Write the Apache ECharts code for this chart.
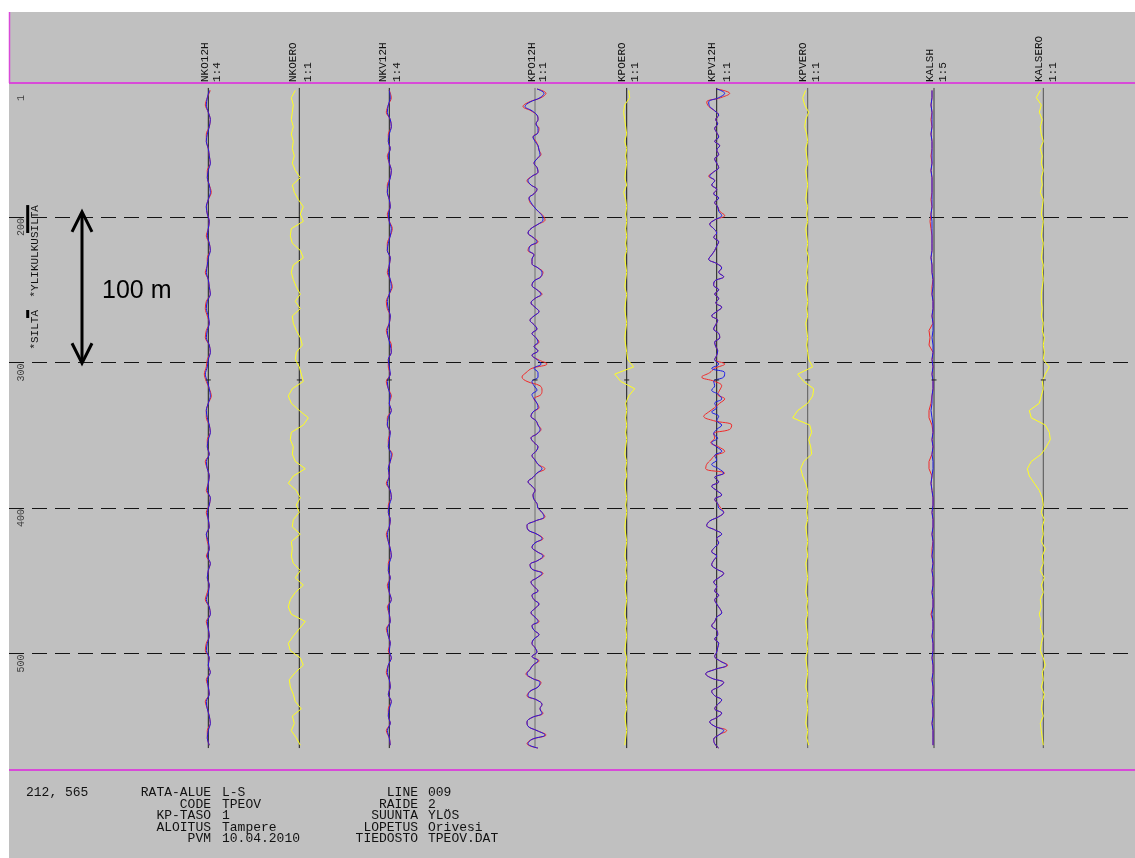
<!DOCTYPE html>
<html>
<head>
<meta charset="utf-8">
<script src="https://cdn.jsdelivr.net/npm/echarts@6/dist/echarts.min.js"></script>
<style>
html,body{margin:0;padding:0;background:#ffffff;}
#wrap{position:relative;width:1135px;height:858px;overflow:hidden;}
#panel{position:absolute;left:9px;top:12px;width:1126px;height:846px;background:#c0c0c0;}
#c{position:absolute;left:0;top:0;width:1135px;height:858px;}
</style>
</head>
<body>
<div id="wrap"><div id="panel"></div><div id="c"></div></div>
<script>
// ---------------- DATA ----------------
const channels = ['NKO12H','NKOERO','NKV12H','KPO12H','KPOERO','KPV12H','KPVERO','KALSH','KALSERO'];
const channelScales = ['1:4','1:1','1:4','1:1','1:1','1:1','1:1','1:5','1:1'];
const traceStart = 111.3, traceEnd = 565;          // metres
const distTicks = [115.5, 200, 300, 400, 500];
const distTickLabels = ['1', '200', '300', '400', '500'];
const gridLines = [200, 300, 400, 500];
const bridgeNames = ['*YLIKULKUSILTA', '*SILTA'];
const bridgeStart = [191.8, 263.9];
const bridgeEnd = [211, 269.4];
const pointMarks = [312];
const spanAnnot = [196.5, 300.5];
const spanLabel = '100 m';
const spanLabelAt = 251;

// sampling grids (metres)
const dist3 = Array.from({length: 152}, (_, i) => 112 + 3 * i);
const dist5 = Array.from({length: 91}, (_, i) => 113 + 5 * i);

// offsets (display units)
const nko12hBlue = [1,-1,-2,0,2,1,-1,-2,0,1, 2,0,-1,1,2,0,-2,-1,1,0, -1,1,2,0,-1,-2,0,1,2,-1, -2,0,1,-1,-2,1,2,0,-1,-3, -1,1,2,0,-2,-1,1,2,0,-1, 1,-2,-1,1,0,-1,2,1,-1,0, 1,-2,0,1,-1,2,0,-1,1,0, -2,1,2,-1,0,1,-1,-2,1,0, 2,-1,0,1,-2,-1,1,2,0,-1, 1];
const nko12hRed = [2,-1,-3,0,2,1,-2,-2,0,1, 2,-1,-1,1,3,0,-2,-1,1,0, -2,1,2,-1,-1,-3,0,1,2,-2, -3,-1,1,-2,-3,1,2,-1,-2,-4, -2,1,3,0,-2,-2,1,2,-1,-1, 1,-3,-1,1,0,-2,2,1,-2,0, 1,-2,-1,1,-2,2,0,-1,1,-1, -3,1,2,-2,0,1,-2,-3,1,0, 2,-2,0,1,-3,-1,1,2,-1,-1, 1];
const nkoero = [-4,-8,-6,-7,-8,-6,-8,-6,-7,-5, -7,-4,1,-7,-5,-1,4,1,4,-8, -9,-7,1,4,-6,-8,-6,-3,1,-4, 1,-7,-6,-3,1,3,-3,-4,0,2, 4,-7,-11,-8,0,9,4,-8,-9,-6, -7,-4,6,-6,-11,-3,1,-3,0,-6, -7,1,-8,-7,-8,-6,1,-4,4,-4, -9,-11,-8,6,0,-6,-11,-9,1,4, -4,-10,-9,-6,-4,2,-7,-5,-8,-3, 1];
const nkv12hBlue = [0,1,-1,-2,1,2,0,-1,1,-1, 0,2,1,-1,-2,0,1,-1,0,2, 1,-1,-2,1,0,-1,1,2,0,-2, -1,1,0,-2,-1,1,2,-1,0,1, -2,-1,1,0,2,-1,-2,1,0,-1, 2,1,-1,0,-2,1,2,0,-1,1, 0,-2,-1,1,2,0,-1,1,-1,0, 2,-1,0,1,-2,-1,1,0,2,-1, -2,0,1,-1,2,0,-1,1,-2,0, 1];
const nkv12hRed = [0,2,-1,-3,1,2,-1,-1,1,-2, 0,2,1,-2,-2,0,1,-2,0,3, 1,-2,-2,1,0,-2,1,3,0,-3, -2,1,0,-3,-1,2,2,-1,-1,1, -3,-1,2,0,2,-2,-2,1,-1,-1, 3,1,-1,0,-3,1,2,-1,-1,1, 0,-3,-1,1,2,-1,-1,1,-2,0, 2,-2,0,1,-3,-1,1,-1,2,-1, -3,0,1,-1,2,-1,-1,1,-3,0, 1];
const kpo12hBlue = [2,9,5,-5,-10,-3,2,3,1,3, 3,-2,0,3,4,5,2,-1,2,3, -3,-7,-4,2,-1,-6,-4,-1,3,7, 8,3,-4,-7,-2,2,-5,-6,-1,-3, -3,3,7,6,-1,-3,2,6,0,-4, 0,4,-1,-5,-1,2,-3,1,3,-1, 3,-3,2,6,-1,3,3,-3,-1,2, -3,-1,2,3,-2,-4,1,3,5,2, -4,-1,3,1,-3,0,3,7,2,-2, -7,-3,0,-2,-1,2,3,7,9,0, -8,-7,2,7,0,-3,2,8,3,-5, -3,7,2,-4,-1,3,-3,-1,4,0, -4,0,3,-3,-1,4,-1,-3,0,2, -3,3,-2,-5,-8,-3,5,3,-5,-7, 2,7,5,7,-3,-8,-7,2,10,-3, -7,3];
const kpo12hRed = [2,11,6,-6,-12,-4,2,3,1,4, 3,-2,1,3,4,6,2,-1,2,3, -3,-8,-4,2,-1,-6,-5,-1,3,8, 10,3,-4,-7,-2,3,-5,-7,-1,-3, -3,3,8,6,-1,-3,2,7,0,-4, 0,4,-1,-5,-1,2,-3,1,4,-1, 3,-3,3,12,-3,-9,-13,-8,5,7, 6,-1,2,4,-2,-4,1,3,6,2, -4,-1,3,1,-3,0,3,10,2,-2, -7,-3,0,-2,-1,2,3,7,10,0, -8,-7,2,8,0,-3,2,9,3,-5, -3,8,2,-4,-1,3,-3,-1,4,0, -4,0,4,-3,-1,4,-1,-3,0,2, -3,4,-2,-5,-9,-3,6,3,-5,-8, 2,7,5,8,-3,-8,-7,2,11,-3, -8,3];
const kpoero = [2,3,-2,-3,-2,-1,0,-2,0,-1, 0,-1,-2,0,-3,-1,0,-1,0,-1, 0,-1,0,-2,-1,0,-1,-2,0,-1, -2,-1,0,-1,-2,-1,0,1,7,-12, -6,8,2,-1,0,-1,0,-1,0,-1, -2,0,-1,0,-2,-1,0,-1,0,-1, -2,-1,0,-1,-2,0,-1,0,-2,-1, 0,-1,-2,0,-1,0,-1,-2,0,-1, 0,-1,-2,0,-1,0,-2,-1,0,-1, -2];
const kpv12hBlue = [0,8,2,-8,-7,-2,2,-1,1,-2, 0,2,-2,3,0,2,-2,0,2,-3, -7,-2,-5,0,-3,2,-2,1,2,5, -2,-7,-3,0,-3,2,0,-2,-5,-8, 0,5,2,7,-2,-3,2,-2,2,-1, 5,0,-5,1,-1,-3,2,3,-2,-1, 1,0,-2,2,-5,8,7,-3,-2,-5, 2,5,-2,0,-5,2,0,5,0,-3, 1,-5,0,5,-2,0,-5,2,7,-2, 2,-5,0,5,-2,1,2,7,2,-7, -10,-2,5,0,2,-2,-5,0,-3,-5, 0,7,2,-3,0,-2,2,-2,0,3, 5,0,-2,-5,0,1,-2,2,1,0, -2,3,10,-2,-11,-5,7,2,-5,-2, 5,1,-2,5,0,-7,-2,7,2,-3, -2,2];
const kpv12hRed = [0,13,4,-10,-8,-2,2,-1,1,-2, 0,2,-2,3,0,2,-2,0,2,-3, -8,-2,-5,0,-3,2,-2,1,3,8, -2,-7,-3,0,-3,2,0,-2,-5,-8, 0,5,2,7,-2,-3,2,-2,2,-1, 5,0,-5,1,-1,-3,2,3,-2,-1, 1,0,-2,8,-2,-7,-15,-2,5,3, 1,8,3,-2,-8,-13,-3,15,13,-3, -2,-6,2,8,-2,-6,-10,-11,8,-2, 2,-5,0,5,-2,1,4,7,2,-7, -10,-2,5,0,2,-2,-5,0,-3,-5, 0,7,2,-3,0,-2,2,-2,0,3, 5,0,-2,-5,0,1,-2,2,1,0, -2,3,11,-2,-11,-5,7,2,-5,-2, 5,1,-2,5,0,-7,-2,10,2,-3, -2,2];
const kpvero = [-2,-5,-3,1,-2,-3,-1,0,-2,-1, 0,-2,-1,0,-1,-2,0,-1,0,-2, -1,0,-1,1,0,-1,0,-2,-1,0, -1,0,-2,-1,0,-1,0,1,5,-10, -4,6,5,0,-10,-15,2,4,1,3, 4,-4,-7,-5,-2,0,-1,0,-1,0, -2,-1,0,-1,0,-2,-1,0,-1,-2, 0,-1,0,-2,-1,0,-1,0,-2,-1, 0,-1,-2,0,-1,0,-1,-2,0,-1, 1];
const kalshBlue = [-2,-2,-3,-2,-2,-2,-3,-2,-2,-2, -2,-3,-2,-2,-2,-2,-2,-3,-2,-2, -2,-2,-2,-3,-2,-2,-1,-1,-2,-1, -1,-2,-1,-1,-2,-1,-1,-2,-1,-2, -1,-1,-2,-2,-3,-2,-1,-1,-2,-1, -2,-1,-1,-2,-3,-2,-1,-1,-2,-1, -1,-2,-1,-1,-2,-1,-2,-1,-1,-2, -1,-1,-2,-1,-1,-2,-1,-1,-2,-1, -1,-2,-1,-1,-2,-1,-1,-2,-1,-1, -1];
const kalshRed = [-2,-2,-3,-2,-3,-2,-3,-2,-2,-3, -2,-3,-2,-2,-2,-3,-2,-3,-4,-3, -2,-2,-2,-3,-2,-2,-1,-2,-2,-1, -1,-2,-1,-5,-4,-5,-1,-2,-1,-2, -1,-1,-2,-3,-5,-5,-2,-1,-2,-1, -2,-5,-5,-2,-3,-2,-1,-1,-2,-1, -1,-2,-1,-2,-2,-1,-2,-1,-1,-2, -1,-1,-3,-1,-1,-2,-1,-1,-2,-1, -1,-2,-1,-1,-2,-1,-1,-2,-1,-1, -1];
const kalsero = [-3,-7,-2,-4,-1,-3,-2,0,-3,-1, -2,0,-2,-1,-3,0,-1,-2,0,-1, -2,0,-1,-2,0,-1,0,-1,-2,-2, -1,-2,0,-1,1,0,1,0,6,2, -1,0,-2,-4,-14,-12,2,6,7,3, -2,-12,-16,-14,-9,-4,-1,0,-2,1, -1,0,-2,2,-1,0,-3,1,-2,0, -3,-2,-4,-2,-3,0,-2,-3,0,2, -1,0,-2,1,-1,-2,0,-3,-2,-1, 0];

const footerId = '212, 565';
const footLabels1 = ['RATA-ALUE','CODE','KP-TASO','ALOITUS','PVM'];
const footValues1 = ['L-S','TPEOV','1','Tampere','10.04.2010'];
const footLabels2 = ['LINE','RAIDE','SUUNTA','LOPETUS','TIEDOSTO'];
const footValues2 = ['009','2','YLÖS','Orivesi','TPEOV.DAT'];

// ---------------- LAYOUT / STYLE ----------------
const L = {
  baseX:  [208.3, 299.3, 389.3, 535, 626.7, 716.7, 807.7, 934, 1043.3],
  nameX:  [205, 293.3, 383.3, 531.7, 621.7, 711.7, 802.7, 930, 1039.3],
  scaleX: [216.7, 308.3, 396.7, 543.3, 635, 726.7, 816, 943.3, 1052.7],
  baseColor: ['#1a1a1a','#1a1a1a','#1a1a1a','#6e6e6e','#1a1a1a','#1a1a1a','#5a5a5a','#3a3a3a','#505050'],
  headBottom: 82,
  tickX: 21,
  bridgeBarX: 27.7,
  bridgeTextX: 35,
  arrowX: 82,
  arrowTextX: 102,
  footRows: [793, 804.5, 816, 827.5, 839],
  red: '#f02828', blue: '#1a1ae6', yellow: '#ffff1e',
  mono: '"Liberation Mono", "DejaVu Sans Mono", monospace'
};

const traces = [
  {ch:0, d:dist5, v:nko12hRed, c:L.red, smooth:0.3, z:3},
  {ch:0, d:dist5, v:nko12hBlue, c:L.blue, smooth:0.3, z:4},
  {ch:1, d:dist5, v:nkoero, c:L.yellow, smooth:false, z:4},
  {ch:2, d:dist5, v:nkv12hRed, c:L.red, smooth:0.3, z:3},
  {ch:2, d:dist5, v:nkv12hBlue, c:L.blue, smooth:0.3, z:4},
  {ch:3, d:dist3, v:kpo12hRed, c:L.red, smooth:0.4, z:3},
  {ch:3, d:dist3, v:kpo12hBlue, c:L.blue, smooth:0.4, z:4},
  {ch:4, d:dist5, v:kpoero, c:L.yellow, smooth:false, z:4},
  {ch:5, d:dist3, v:kpv12hRed, c:L.red, smooth:0.4, z:3},
  {ch:5, d:dist3, v:kpv12hBlue, c:L.blue, smooth:0.4, z:4},
  {ch:6, d:dist5, v:kpvero, c:L.yellow, smooth:false, z:4},
  {ch:7, d:dist5, v:kalshRed, c:L.red, smooth:false, z:3},
  {ch:7, d:dist5, v:kalshBlue, c:L.blue, smooth:false, z:4},
  {ch:8, d:dist5, v:kalsero, c:L.yellow, smooth:false, z:4}
];

const chart = echarts.init(document.getElementById('c'), null, {renderer: 'canvas'});
const series = [];

// baselines
channels.forEach((name, i) => {
  const s = {
    type: 'line', name: name + '-base', symbol: 'none', silent: true, z: 2,
    data: [[L.baseX[i], traceStart], [L.baseX[i], traceEnd]],
    lineStyle: {color: L.baseColor[i], width: 1}
  };
  if (i === 0) {
    s.markLine = {
      silent: true, symbol: ['none', 'none'], label: {show: false}, z: 1,
      lineStyle: {color: '#141414', width: 1, type: [15, 8]},
      data: gridLines.map(v => ({yAxis: v}))
    };
  }
  series.push(s);
});

// traces
traces.forEach(t => {
  series.push({
    type: 'line', symbol: 'none', silent: true, z: t.z, smooth: t.smooth,
    data: t.d.map((d, k) => [L.baseX[t.ch] + t.v[k], d]),
    lineStyle: {color: t.c, width: 1}
  });
});

// small marks on baselines
series.push({
  type: 'custom', silent: true, z: 5,
  data: channels.flatMap((n, i) => pointMarks.map(m => [L.baseX[i], m])),
  renderItem: (p, api) => {
    const c = api.coord([api.value(0), api.value(1)]);
    return {type: 'line', shape: {x1: c[0] - 2.5, y1: c[1], x2: c[0] + 2.5, y2: c[1]},
      style: {stroke: '#222', lineWidth: 1}};
  }
});

// distance tick labels
series.push({
  type: 'custom', silent: true, z: 6,
  data: distTicks.map((d, i) => [L.tickX, d, i]),
  renderItem: (p, api) => {
    const c = api.coord([api.value(0), api.value(1)]);
    return {type: 'text', x: c[0], y: c[1] + 1, rotation: Math.PI / 2,
      style: {text: distTickLabels[api.value(2)], font: '10px ' + L.mono, fill: '#404040',
        align: 'right', verticalAlign: 'middle', textAlign: 'right', textVerticalAlign: 'middle'}};
  }
});

// bridges
series.push({
  type: 'custom', silent: true, z: 6,
  data: bridgeNames.map((n, i) => [L.bridgeBarX, bridgeStart[i], bridgeEnd[i], i]),
  renderItem: (p, api) => {
    const a = api.coord([api.value(0), api.value(1)]);
    const b = api.coord([api.value(0), api.value(2)]);
    const tx = L.bridgeTextX;
    return {type: 'group', children: [
      {type: 'line', shape: {x1: a[0], y1: a[1], x2: b[0], y2: b[1]}, style: {stroke: '#000', lineWidth: 3}},
      {type: 'text', x: tx, y: a[1], rotation: Math.PI / 2,
        style: {text: bridgeNames[api.value(3)], font: '11px ' + L.mono, fill: '#111',
          align: 'right', verticalAlign: 'middle', textAlign: 'right', textVerticalAlign: 'middle'}}
    ]};
  }
});

// span annotation (100 m)
series.push({
  type: 'custom', silent: true, z: 7,
  data: [[L.arrowX, spanAnnot[0], spanAnnot[1], spanLabelAt]],
  renderItem: (p, api) => {
    const a = api.coord([api.value(0), api.value(1)]);
    const b = api.coord([api.value(0), api.value(2)]);
    const m = api.coord([api.value(0), api.value(3)]);
    const st = {stroke: '#000', lineWidth: 3, fill: null, lineJoin: 'miter'};
    return {type: 'group', children: [
      {type: 'line', shape: {x1: a[0], y1: a[1] + 1, x2: b[0], y2: b[1] - 1}, style: st},
      {type: 'polyline', shape: {points: [[a[0] - 10, a[1] + 20], [a[0], a[1]], [a[0] + 10, a[1] + 20]]}, style: st},
      {type: 'polyline', shape: {points: [[b[0] - 10, b[1] - 20], [b[0], b[1]], [b[0] + 10, b[1] - 20]]}, style: st},
      {type: 'text', x: L.arrowTextX, y: m[1],
        style: {text: spanLabel, font: '25px "Liberation Sans", Arial, sans-serif', fill: '#000',
          align: 'left', verticalAlign: 'middle', textAlign: 'left', textVerticalAlign: 'middle'}}
    ]};
  }
});

// header + footer graphics
const gfx = [
  {type: 'line', shape: {x1: 9, y1: 83, x2: 1135, y2: 83}, style: {stroke: '#d84ad8', lineWidth: 2}, z: 10},
  {type: 'line', shape: {x1: 9.5, y1: 12, x2: 9.5, y2: 83}, style: {stroke: '#d84ad8', lineWidth: 1.5}, z: 10},
  {type: 'line', shape: {x1: 9, y1: 770, x2: 1135, y2: 770}, style: {stroke: '#d84ad8', lineWidth: 2}, z: 10}
];
channels.forEach((n, i) => {
  gfx.push({type: 'text', x: L.nameX[i], y: L.headBottom, rotation: Math.PI / 2, z: 10,
    style: {text: n, font: '11px ' + L.mono, fill: '#111', align: 'left', verticalAlign: 'middle',
      textAlign: 'left', textVerticalAlign: 'middle'}});
  gfx.push({type: 'text', x: L.scaleX[i], y: L.headBottom, rotation: Math.PI / 2, z: 10,
    style: {text: channelScales[i], font: '11px ' + L.mono, fill: '#111', align: 'left', verticalAlign: 'middle',
      textAlign: 'left', textVerticalAlign: 'middle'}});
});
const ft = (text, x, y, align) => ({type: 'text', x: x, y: y, z: 10,
  style: {text: text, font: '13px ' + L.mono, fill: '#111', align: align, verticalAlign: 'middle',
    textAlign: align, textVerticalAlign: 'middle'}});
gfx.push(ft(footerId, 26, L.footRows[0], 'left'));
footLabels1.forEach((t, i) => gfx.push(ft(t, 211, L.footRows[i], 'right')));
footValues1.forEach((t, i) => gfx.push(ft(t, 222, L.footRows[i], 'left')));
footLabels2.forEach((t, i) => gfx.push(ft(t, 418, L.footRows[i], 'right')));
footValues2.forEach((t, i) => gfx.push(ft(t, 428, L.footRows[i], 'left')));

chart.setOption({
  backgroundColor: 'transparent',
  animation: false,
  grid: {left: 9, right: 0, top: 84, bottom: 87, containLabel: false},
  xAxis: {type: 'value', min: 9, max: 1135, show: false},
  yAxis: {type: 'value', inverse: true, min: 108.59, max: 580.76, show: false},
  tooltip: {show: false},
  series: series,
  graphic: {elements: gfx}
});
</script>
</body>
</html>
